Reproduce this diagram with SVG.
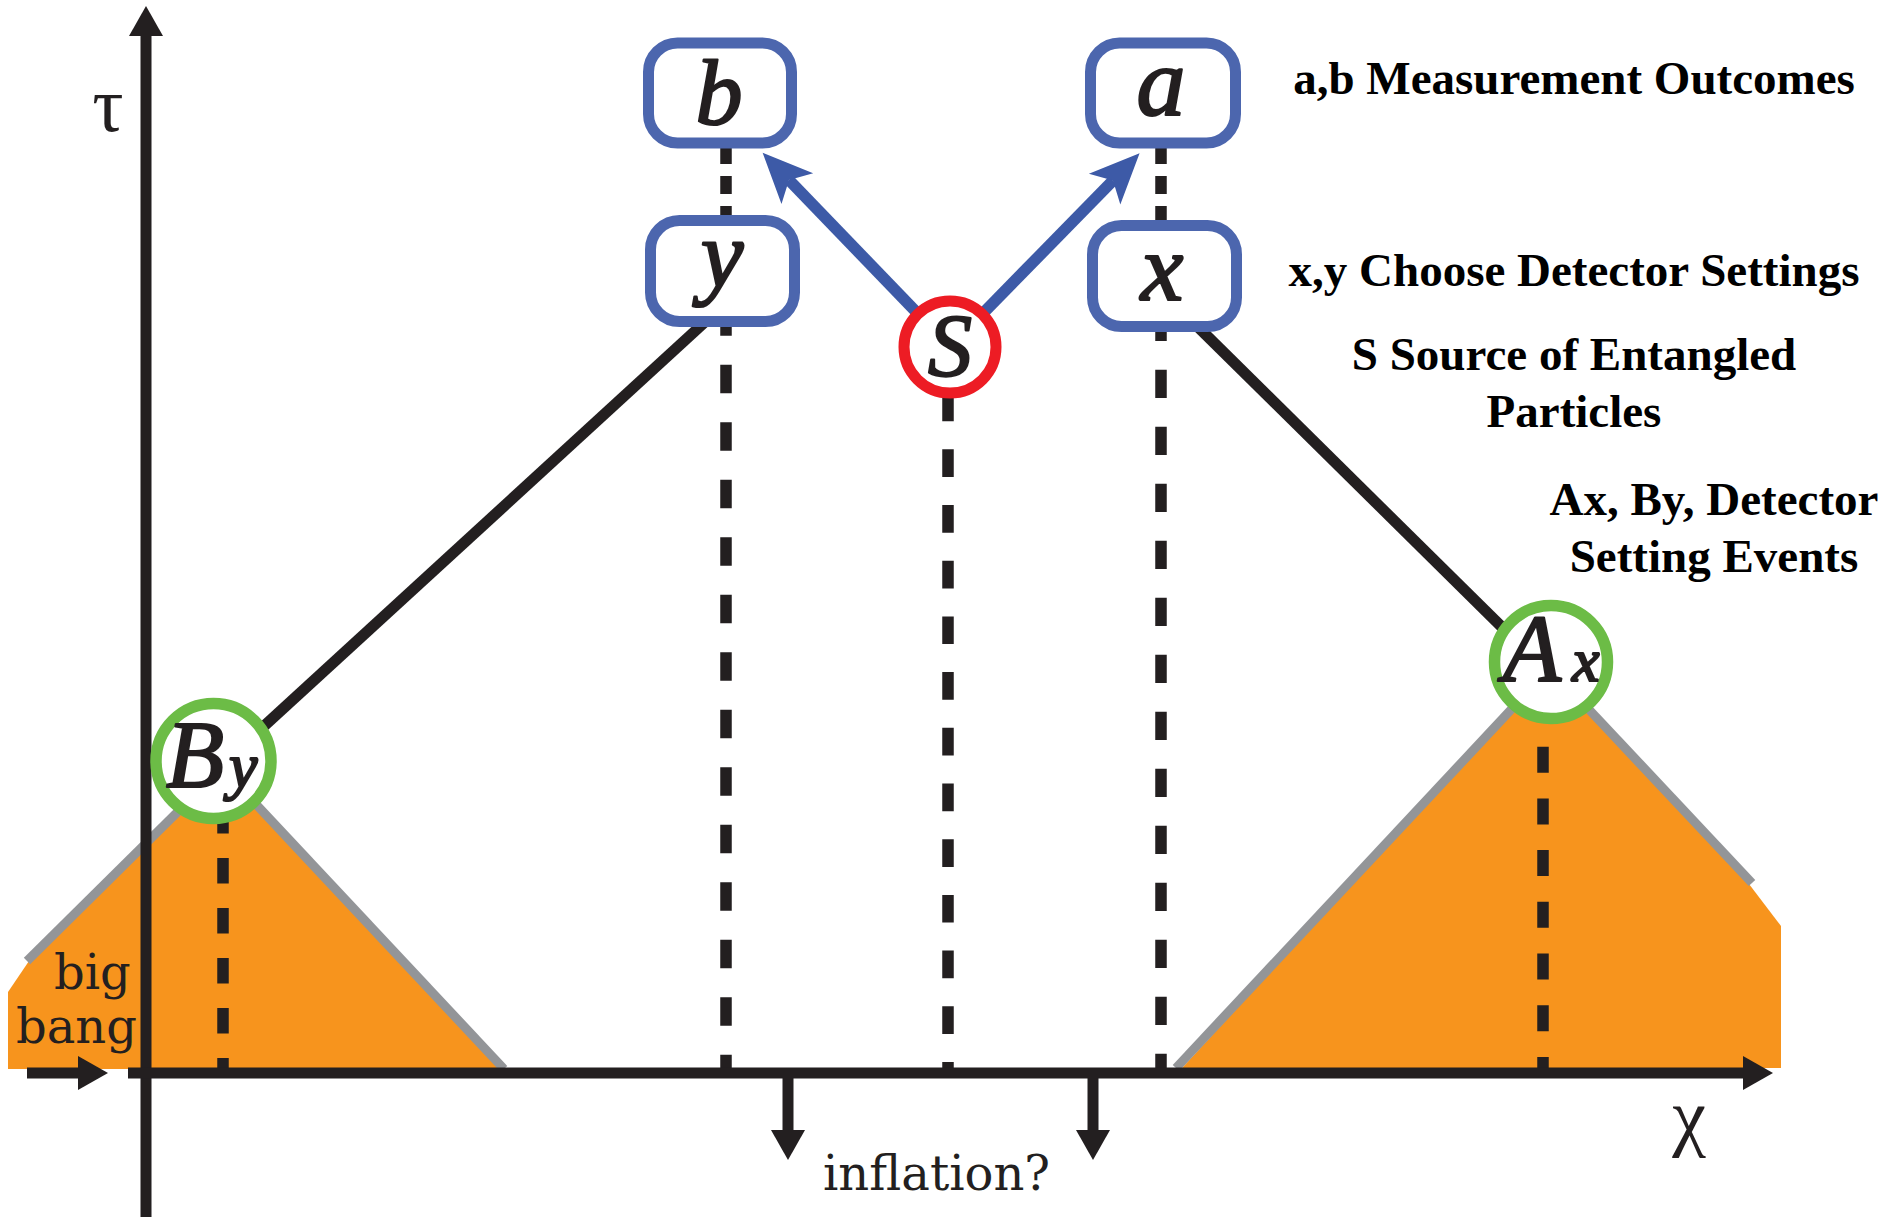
<svg xmlns="http://www.w3.org/2000/svg" width="1904" height="1217" viewBox="0 0 1904 1217">
  <style>
    .orange { fill: #f7941d; stroke: none; }
    .gray { fill: none; stroke: #939598; stroke-width: 9; stroke-linecap: butt; }
    .axis { fill: none; stroke: #231f20; stroke-width: 11; }
    .dash { fill: none; stroke: #231f20; stroke-width: 11.5; }
    .cone { fill: none; stroke: #231f20; stroke-width: 11; }
    .blue { fill: none; stroke: #3d5aa7; stroke-width: 11.5; }
    .box { fill: #ffffff; stroke: #4c66ae; stroke-width: 11; }
    .src { fill: #ffffff; stroke: #ed1c24; stroke-width: 11; }
    .evt { fill: #ffffff; stroke: #6cbc46; stroke-width: 11.5; }
    .var { font-family: "Liberation Serif", "Times New Roman", serif; font-style: italic; fill: #231f20; stroke: #231f20; stroke-width: 2.2; stroke-linejoin: round; }
    .legend { font-family: "Liberation Serif", "Times New Roman", serif; font-weight: bold; font-size: 47px; fill: #000000; text-anchor: middle; }
    .note { font-family: "DejaVu Serif", serif; font-size: 48px; fill: #231f20; }
    .greek { font-family: "Liberation Serif", "Times New Roman", serif; fill: #231f20; text-anchor: middle; }
  </style>
  <defs>
    <marker id="blackHead" viewBox="0 0 30 34" markerWidth="30" markerHeight="34" markerUnits="userSpaceOnUse" refX="0" refY="17" orient="auto">
      <path d="M0,0 L30,17 L0,34 Z" fill="#231f20"/>
    </marker>
    <marker id="blueHead" viewBox="0 -24 52 48" markerWidth="52" markerHeight="48" markerUnits="userSpaceOnUse" refX="12" refY="0" orient="auto">
      <path d="M0,-22 L50,0 L0,22 L12,0 Z" fill="#3d5aa7"/>
    </marker>
  </defs>

  <g id="light-cones">
    <path class="orange" d="M8,1069 L8,992 L29,961 L222,768 L504,1069 Z"/>
    <path class="gray" d="M27,961 L222,768"/>
    <path class="gray" d="M222,768 L504,1069"/>
    <path class="orange" d="M1182,1068 L1550,668 L1749,884 L1781,926 L1781,1068 Z"/>
    <path class="gray" d="M1176,1068 L1550,668"/>
    <path class="gray" d="M1550,668 L1752,883"/>
  </g>

  <g id="connectors">
    <!-- dashed worldlines -->
    <line class="dash" x1="726" y1="146" x2="726" y2="224" stroke-dasharray="18 12"/>
    <line class="dash" x1="1161" y1="146" x2="1161" y2="230" stroke-dasharray="18 12"/>
    <line class="dash" x1="726" y1="307.3" x2="726" y2="1075" stroke-dasharray="28.5 29"/>
    <line class="dash" x1="948" y1="393.6" x2="948" y2="1075" stroke-dasharray="27.7 28"/>
    <line class="dash" x1="1161" y1="312.7" x2="1161" y2="1075" stroke-dasharray="28.3 28.7"/>
    <line class="dash" x1="223" y1="808" x2="223" y2="1075" stroke-dasharray="25.5 24.5"/>
    <line class="dash" x1="1543" y1="695" x2="1543" y2="1075" stroke-dasharray="26 25.7"/>
    <!-- axes -->
    <line class="axis" x1="146" y1="1217" x2="146" y2="36" marker-end="url(#blackHead)"/>
    <line class="axis" x1="128" y1="1073" x2="1743" y2="1073" marker-end="url(#blackHead)"/>
    <line class="axis" x1="27" y1="1073" x2="78" y2="1073" marker-end="url(#blackHead)"/>
    <line class="axis" x1="788" y1="1078" x2="788" y2="1130" marker-end="url(#blackHead)"/>
    <line class="axis" x1="1093" y1="1078" x2="1093" y2="1130" marker-end="url(#blackHead)"/>
    <!-- light cone lines -->
    <line class="cone" x1="706" y1="321" x2="250" y2="739"/>
    <line class="cone" x1="1195" y1="324" x2="1515" y2="640"/>
    <!-- particle paths -->
    <line class="blue" x1="950" y1="347" x2="789" y2="180" marker-end="url(#blueHead)"/>
    <line class="blue" x1="950" y1="347" x2="1113" y2="180.5" marker-end="url(#blueHead)"/>
  </g>

  <g id="node-b">
    <rect class="box" x="648.5" y="43" width="143" height="100" rx="29"/>
    <text class="var" x="719" y="124" font-size="94" text-anchor="middle">b</text>
  </g>
  <g id="node-a">
    <rect class="box" x="1090.5" y="43" width="145" height="100" rx="29"/>
    <text class="var" x="1161" y="115" font-size="98" text-anchor="middle">a</text>
  </g>
  <g id="node-y">
    <rect class="box" x="650.5" y="220.5" width="144" height="101" rx="29"/>
    <text class="var" x="722" y="287" font-size="96" text-anchor="middle">y</text>
  </g>
  <g id="node-x">
    <rect class="box" x="1092.5" y="225.5" width="144" height="101" rx="29"/>
    <text class="var" x="1162" y="300" font-size="96" text-anchor="middle">x</text>
  </g>
  <g id="node-S">
    <circle class="src" cx="950" cy="347" r="46"/>
    <text class="var" x="950" y="375" font-size="88" text-anchor="middle">S</text>
  </g>
  <g id="node-By">
    <circle class="evt" cx="213.5" cy="761" r="57.5"/>
    <text class="var" x="166" y="787" font-size="95">B</text>
    <text class="var" x="229" y="787" font-size="64">y</text>
  </g>
  <g id="node-Ax">
    <circle class="evt" cx="1551" cy="662" r="56.5"/>
    <text class="var" x="1503" y="681" font-size="95">A</text>
    <text class="var" x="1572" y="681" font-size="62">x</text>
  </g>

  <g id="labels">
    <text class="greek" x="108" y="131" font-size="78">τ</text>
    <text class="greek" x="1689" y="1142" font-size="76">χ</text>
    <text class="note" x="54" y="989">big</text>
    <text class="note" x="16" y="1043">bang</text>
    <text class="note" x="823" y="1190">inflation?</text>
    <text class="legend" x="1574" y="94">a,b Measurement Outcomes</text>
    <text class="legend" x="1574" y="286">x,y Choose Detector Settings</text>
    <text class="legend" x="1574" y="370">S Source of Entangled</text>
    <text class="legend" x="1574" y="427">Particles</text>
    <text class="legend" x="1714" y="515">Ax, By, Detector</text>
    <text class="legend" x="1714" y="572">Setting Events</text>
  </g>
</svg>
